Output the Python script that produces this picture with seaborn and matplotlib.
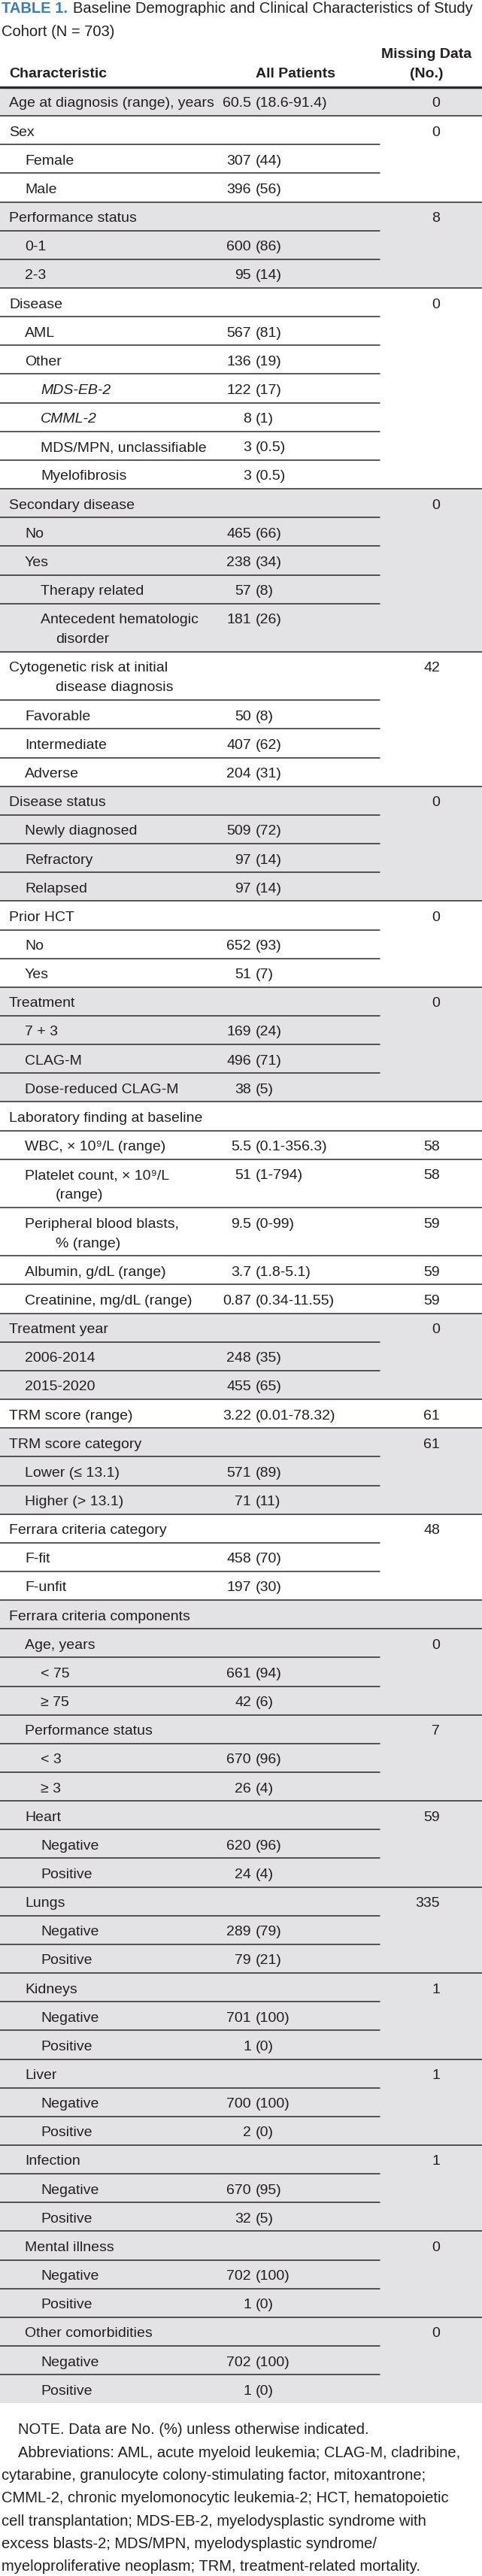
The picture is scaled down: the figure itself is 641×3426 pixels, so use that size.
import matplotlib
matplotlib.use("Agg")
import matplotlib.pyplot as plt
import seaborn as sns
from matplotlib.patches import Rectangle

# table content
labels = [
    "Age at diagnosis (range), years", "Sex", "Female", "Male",
    "Performance status", "0-1", "2-3",
    "Disease", "AML", "Other", "MDS-EB-2", "CMML-2", "MDS/MPN, unclassifiable", "Myelofibrosis",
    "Secondary disease", "No", "Yes", "Therapy related", "Antecedent hematologic\ndisorder",
    "Cytogenetic risk at initial\ndisease diagnosis", "Favorable", "Intermediate", "Adverse",
    "Disease status", "Newly diagnosed", "Refractory", "Relapsed",
    "Prior HCT", "No", "Yes",
    "Treatment", "7 + 3", "CLAG-M", "Dose-reduced CLAG-M",
    "Laboratory finding at baseline", "WBC, × 10⁹/L (range)", "Platelet count, × 10⁹/L\n(range)",
    "Peripheral blood blasts,\n% (range)", "Albumin, g/dL (range)", "Creatinine, mg/dL (range)",
    "Treatment year", "2006-2014", "2015-2020",
    "TRM score (range)",
    "TRM score category", "Lower (≤ 13.1)", "Higher (> 13.1)",
    "Ferrara criteria category", "F-fit", "F-unfit",
    "Ferrara criteria components",
    "Age, years", "< 75", "≥ 75",
    "Performance status", "< 3", "≥ 3",
    "Heart", "Negative", "Positive",
    "Lungs", "Negative", "Positive",
    "Kidneys", "Negative", "Positive",
    "Liver", "Negative", "Positive",
    "Infection", "Negative", "Positive",
    "Mental illness", "Negative", "Positive",
    "Other comorbidities", "Negative", "Positive",
]
levels = [
    0, 0, 1, 1,
    0, 1, 1,
    0, 1, 1, 2, 2, 2, 2,
    0, 1, 1, 2, 2,
    0, 1, 1, 1,
    0, 1, 1, 1,
    0, 1, 1,
    0, 1, 1, 1,
    0, 1, 1, 1, 1, 1,
    0, 1, 1,
    0,
    0, 1, 1,
    0, 1, 1,
    0,
    1, 2, 2,
    1, 2, 2,
    1, 2, 2,
    1, 2, 2,
    1, 2, 2,
    1, 2, 2,
    1, 2, 2,
    1, 2, 2,
    1, 2, 2,
]
patients = [
    "60.5 (18.6-91.4)", "", "307 (44)", "396 (56)",
    "", "600 (86)", "95 (14)",
    "", "567 (81)", "136 (19)", "122 (17)", "8 (1)", "3 (0.5)", "3 (0.5)",
    "", "465 (66)", "238 (34)", "57 (8)", "181 (26)",
    "", "50 (8)", "407 (62)", "204 (31)",
    "", "509 (72)", "97 (14)", "97 (14)",
    "", "652 (93)", "51 (7)",
    "", "169 (24)", "496 (71)", "38 (5)",
    "", "5.5 (0.1-356.3)", "51 (1-794)", "9.5 (0-99)", "3.7 (1.8-5.1)", "0.87 (0.34-11.55)",
    "", "248 (35)", "455 (65)",
    "3.22 (0.01-78.32)",
    "", "571 (89)", "71 (11)",
    "", "458 (70)", "197 (30)",
    "",
    "", "661 (94)", "42 (6)",
    "", "670 (96)", "26 (4)",
    "", "620 (96)", "24 (4)",
    "", "289 (79)", "79 (21)",
    "", "701 (100)", "1 (0)",
    "", "700 (100)", "2 (0)",
    "", "670 (95)", "32 (5)",
    "", "702 (100)", "1 (0)",
    "", "702 (100)", "1 (0)",
]
missing = [
    "0", "0", "", "",
    "8", "", "",
    "0", "", "", "", "", "", "",
    "0", "", "", "", "",
    "42", "", "", "",
    "0", "", "", "",
    "0", "", "",
    "0", "", "", "",
    "", "58", "58", "59", "59", "59",
    "0", "", "",
    "61",
    "61", "", "",
    "48", "", "",
    "",
    "0", "", "",
    "7", "", "",
    "59", "", "",
    "335", "", "",
    "1", "", "",
    "1", "", "",
    "1", "", "",
    "0", "", "",
    "0", "", "",
]
italic_labels = ["MDS-EB-2", "CMML-2"]

note_lines = [
    "NOTE. Data are No. (%) unless otherwise indicated.",
    "Abbreviations: AML, acute myeloid leukemia; CLAG-M, cladribine,",
    "cytarabine, granulocyte colony-stimulating factor, mitoxantrone;",
    "CMML-2, chronic myelomonocytic leukemia-2; HCT, hematopoietic",
    "cell transplantation; MDS-EB-2, myelodysplastic syndrome with",
    "excess blasts-2; MDS/MPN, myelodysplastic syndrome/",
    "myeloproliferative neoplasm; TRM, treatment-related mortality.",
]

sns.set_theme(style="white")
plt.rcParams['font.family'] = ['Liberation Sans', 'DejaVu Sans']

W, H = 641, 3426
fig = plt.figure(figsize=(W / 100, H / 100), dpi=100)
ax = fig.add_axes([0, 0, 1, 1])
ax.set_xlim(0, W)
ax.set_ylim(H, 0)
ax.axis('off')

ink = '#231f20'
shade = '#e3e2e4'
rule = '#2a2a2a'
fs = 14
fs_big = 14.5

# title
ax.text(2, 17, "TABLE 1.", color='#3a7db9', fontweight='bold', fontsize=fs_big, va='baseline')
ax.text(97, 17, "Baseline Demographic and Clinical Characteristics of Study",
        color=ink, fontsize=fs_big, va='baseline')
ax.text(2, 48, "Cohort (N = 703)", color=ink, fontsize=fs_big, va='baseline')

# header
ax.text(12, 103, "Characteristic", fontweight='bold', fontsize=fs, color=ink, va='baseline')
ax.text(393, 103, "All Patients", fontweight='bold', fontsize=fs, color=ink, va='baseline', ha='center')
ax.text(567, 77, "Missing Data", fontweight='bold', fontsize=fs, color=ink, va='baseline', ha='center')
ax.text(567, 103, "(No.)", fontweight='bold', fontsize=fs, color=ink, va='baseline', ha='center')

indent = [12, 33, 54]
row_h, extra_h = 38.15, 26.15
y = 116.0
shaded = False
for i, lab in enumerate(labels):
    parts = lab.split('\n')
    h = row_h + extra_h * (len(parts) - 1)
    if levels[i] == 0:
        shaded = not shaded
    if shaded:
        ax.add_patch(Rectangle((0, y), W, h, color=shade, lw=0, zorder=0))
    if i > 0:
        full = levels[i] == 0 or missing[i] != ""
        ax.plot([0, W if full else 505], [y, y], color=rule, lw=1.1, zorder=2)
    base = y + 26.5
    style = 'italic' if lab in italic_labels else 'normal'
    for k, p in enumerate(parts):
        x = indent[levels[i]] if k == 0 else 74
        ax.text(x, base + 26 * k, p, fontsize=fs, color=ink, va='baseline', style=style)
    if patients[i]:
        num, rest = patients[i].split(' ', 1)
        ax.text(334, base, num, fontsize=fs, color=ink, va='baseline', ha='right')
        ax.text(340, base, rest, fontsize=fs, color=ink, va='baseline', ha='left')
    if missing[i]:
        ax.text(585, base, missing[i], fontsize=fs, color=ink, va='baseline', ha='right')
    y += h

# thick rule under the header
ax.plot([0, W], [115.5, 115.5], color=rule, lw=2.4, zorder=3)

# footnotes
note_y = y + 41
for k, line in enumerate(note_lines):
    ax.text(24 if k < 2 else 2, note_y + 30.3 * k, line, fontsize=fs_big, color=ink, va='baseline')

fig.savefig("out.png", dpi=100)
